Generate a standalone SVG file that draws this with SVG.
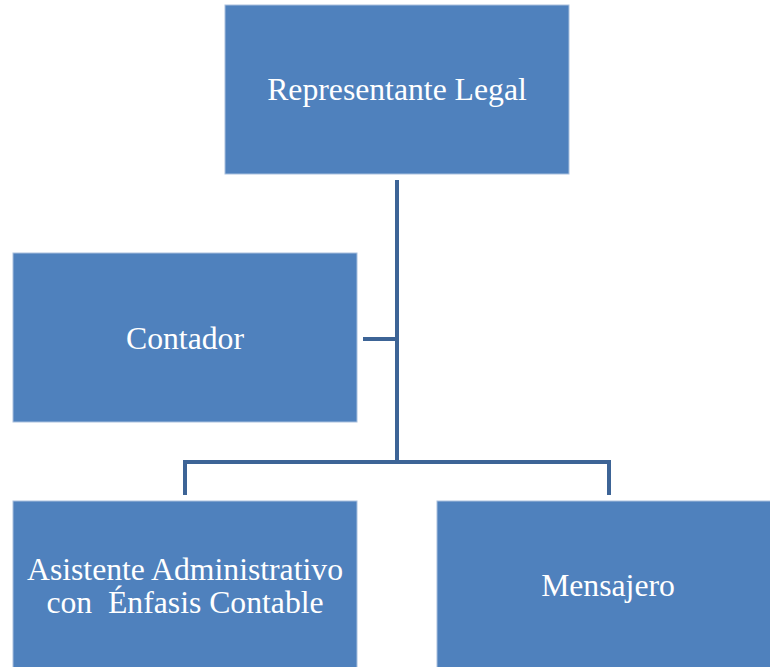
<svg xmlns="http://www.w3.org/2000/svg" width="770" height="667" viewBox="0 0 770 667">
<style>
.box{fill:#4F81BD;stroke:#A9C0DE;stroke-width:1}
.lbl{font-family:"Liberation Serif","Times New Roman",serif;font-size:31.7px;fill:#FFFFFF;text-anchor:middle;white-space:pre}
.con{fill:none;stroke:#3D6496;stroke-width:4;stroke-linejoin:miter}
</style>
<rect width="770" height="667" fill="#FFFFFF"/>
<g id="connectors">
<path class="con" d="M397 180 V462"/>
<path class="con" d="M363 339 H397"/>
<path class="con" d="M185 495 V462 H609 V495"/>
</g>
<g id="representante">
<rect class="box" x="225" y="5" width="344" height="169"/>
<text class="lbl" x="397" y="100">Representante Legal</text>
</g>
<g id="contador">
<rect class="box" x="13" y="253" width="344" height="169"/>
<text class="lbl" x="185" y="349">Contador</text>
</g>
<g id="asistente">
<rect class="box" x="13" y="501" width="344" height="180"/>
<text class="lbl" x="185" y="580">Asistente Administrativo</text>
<text class="lbl" x="185" y="613" xml:space="preserve">con  Énfasis Contable</text>
</g>
<g id="mensajero">
<rect class="box" x="437" y="501" width="343" height="180"/>
<text class="lbl" x="608" y="596">Mensajero</text>
</g>
</svg>
